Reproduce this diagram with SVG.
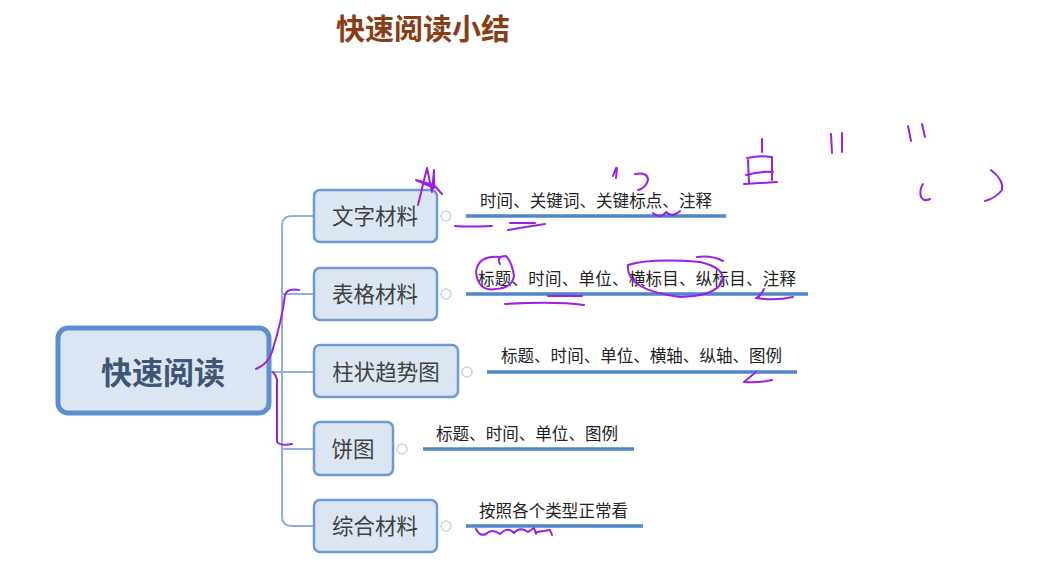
<svg xmlns="http://www.w3.org/2000/svg" width="1045" height="566" viewBox="0 0 1045 566">
<style>
.t{font-family:"Noto Sans CJK SC","Liberation Sans",sans-serif}
.box{fill:#dce6f2;stroke:#6b9bd2;stroke-width:2.5}
.lbl{font-size:21.5px;fill:#404040;text-anchor:middle}
.sub{font-size:16.5px;fill:#222}
.ul{stroke:#4f86c6;stroke-width:3.5}
.c{fill:#fff;stroke:#c8d2e6;stroke-width:1.5}
.con{fill:none;stroke:#8fb2dc;stroke-width:2}
.ink{fill:none;stroke:#9b1fe8;stroke-width:2;stroke-linecap:round;stroke-linejoin:round}
</style>
<rect width="1045" height="566" fill="#fff"/>
<text class="t" x="423" y="40" font-size="29" font-weight="bold" fill="#8a3d14" text-anchor="middle">快速阅读小结</text>
<g id="connectors">
<path class="con" d="M270 372H282M313 216H292Q282 216 282 226V516Q282 526 292 526H313M282 294H313M282 372H313M282 449H313"/>
<g class="ul"><line x1="466" y1="216" x2="726" y2="216"/><line x1="466" y1="294" x2="808" y2="294"/><line x1="487" y1="372" x2="797" y2="372"/><line x1="423" y1="449" x2="634" y2="449"/><line x1="466" y1="526" x2="643" y2="526"/></g>
<g class="c"><circle cx="446" cy="216" r="5"/><circle cx="446" cy="294" r="5"/><circle cx="467" cy="372" r="5"/><circle cx="402" cy="449" r="5"/><circle cx="446" cy="526" r="5"/></g>
</g>
<g id="root"><rect x="58" y="328" width="211" height="85" rx="10" fill="#dce6f2" stroke="#5b8fd0" stroke-width="5"/><text class="t" x="163" y="384" font-size="31" font-weight="bold" fill="#3f5677" text-anchor="middle">快速阅读</text></g>
<g id="n1"><rect class="box" x="314" y="190" width="123" height="52" rx="6"/><text class="t lbl" x="375" y="224">文字材料</text><text class="t sub" x="480" y="207" textLength="232">时间、关键词、关键标点、注释</text></g>
<g id="n2"><rect class="box" x="314" y="268" width="123" height="52" rx="6"/><text class="t lbl" x="375" y="302">表格材料</text><text class="t sub" x="478" y="285" textLength="318">标题、时间、单位、横标目、纵标目、注释</text></g>
<g id="n3"><rect class="box" x="314" y="345" width="144" height="52" rx="6"/><text class="t lbl" x="386" y="380">柱状趋势图</text><text class="t sub" x="501" y="362" textLength="281">标题、时间、单位、横轴、纵轴、图例</text></g>
<g id="n4"><rect class="box" x="314" y="422" width="79" height="53" rx="6"/><text class="t lbl" x="353" y="457">饼图</text><text class="t sub" x="436" y="440" textLength="182">标题、时间、单位、图例</text></g>
<g id="n5"><rect class="box" x="314" y="500" width="123" height="52" rx="6"/><text class="t lbl" x="375" y="534">综合材料</text><text class="t sub" x="479" y="517" textLength="149">按照各个类型正常看</text></g>
<g id="ink" class="ink">
<path d="M256 369Q268 364 272 352Q282 320 285 295Q287 288 299 290"/>
<path d="M273 372Q276 375 277 380V442Q280 446 292 444"/>
<path d="M418 205L427 168L432 192L434 170L434 188L416 180L434 185L442 194"/>
<path d="M455 226Q465 227 492 226M508 230Q525 227 545 224M510 223H535"/>
<path d="M653 213Q660 220 666 212Q672 218 680 211"/>
<path d="M616 168L613 176M617 168L616 178M635 174Q648 172 648 180Q646 188 638 190"/>
<path d="M762 139V152M746 175Q760 171 773 172M748 160L749 183M747 158Q760 155 771 157M772 157V180M744 184L777 182"/>
<path d="M831 134L832 153M842 133V152M908 126L911 141M922 124L925 137"/>
<path d="M923 184Q919 190 921 197Q924 202 930 199M991 170Q1004 180 1002 190Q996 198 985 201"/>
<path d="M500 257Q478 255 476 272Q478 292 496 289Q512 288 514 276Q512 262 506 256Q496 256 500 264"/>
<path d="M505 304Q555 301 584 305M548 296H582"/>
<path d="M628 265Q625 290 680 297Q715 296 722 282Q726 268 700 262Q650 258 628 265M697 257Q712 255 723 261"/>
<path d="M764 289Q760 297 756 298Q775 301 793 297"/>
<path d="M756 372L744 382Q760 383 772 380"/>
<path d="M476 529Q480 537 486 534Q492 528 500 534Q508 526 514 533Q520 526 528 532L534 528L536 534M537 532L550 530L552 535"/>
</g>
</svg>
